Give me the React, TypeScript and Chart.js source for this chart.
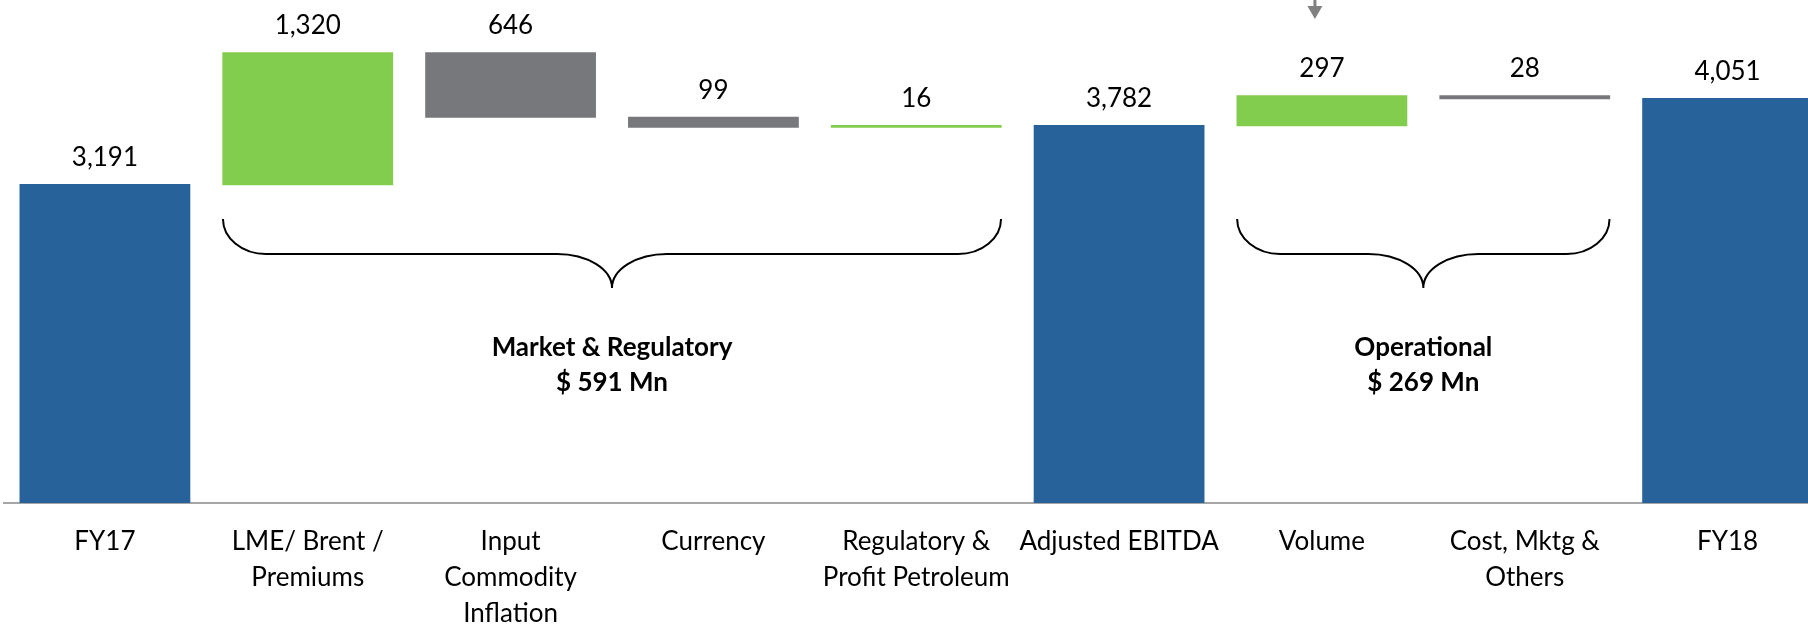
import { useEffect, useRef } from "react";
import { Chart, registerables } from "chart.js";

Chart.register(...registerables);

const categories: string[][] = [
  ["FY17"],
  ["LME/ Brent /", "Premiums"],
  ["Input", "Commodity", "Inflation"],
  ["Currency"],
  ["Regulatory &", "Profit Petroleum"],
  ["Adjusted EBITDA"],
  ["Volume"],
  ["Cost, Mktg &", "Others"],
  ["FY18"],
];
const values = [3191, 1320, -646, -99, 16, 3782, 297, -28, 4051];
const kinds = ["total", "delta", "delta", "delta", "delta", "total", "delta", "delta", "total"];

const groupLabels = ["Market & Regulatory", "Operational"];
const groupStart = [1, 6];
const groupEnd = [4, 7];
const arrowIndex = 6;

const BLUE = "#28629A";
const GREEN = "#82CD4D";
const GRAY = "#77787B";
const FONT = "Lato";

function buildRanges() {
  const ranges: [number, number][] = [];
  let running = 0;
  values.forEach((v, i) => {
    if (kinds[i] === "total") {
      ranges.push([0, v]);
      running = v;
    } else {
      const next = running + v;
      ranges.push([Math.min(running, next), Math.max(running, next)]);
      running = next;
    }
  });
  return ranges;
}

const colors = values.map((v, i) => (kinds[i] === "total" ? BLUE : v >= 0 ? GREEN : GRAY));

const valueLabelPlugin = {
  id: "valueLabels",
  afterDatasetsDraw(chart: any) {
    const ctx = chart.ctx;
    const meta = chart.getDatasetMeta(0);
    ctx.save();
    ctx.font = `26px ${FONT}`;
    ctx.fillStyle = "#000";
    ctx.textAlign = "center";
    ctx.textBaseline = "middle";
    meta.data.forEach((el: any, i: number) => {
      const top = Math.min(el.y, el.base);
      ctx.fillText(Math.abs(values[i]).toLocaleString("en-US"), el.x, top - 27);
    });
    ctx.restore();
  },
};

const bracePlugin = {
  id: "braces",
  afterDraw(chart: any) {
    const ctx = chart.ctx;
    const meta = chart.getDatasetMeta(0);
    const yTop = 219;
    const yMid = 254;
    const yTip = 288;
    const k = 0.552;
    ctx.save();
    groupLabels.forEach((label, g) => {
      const a = meta.data[groupStart[g]];
      const b = meta.data[groupEnd[g]];
      const x0 = a.x - a.width / 2;
      const x1 = b.x + b.width / 2;
      const xc = (x0 + x1) / 2;
      const r1 = 43;
      const r2 = 55;
      const d1 = yMid - yTop;
      const d2 = yTip - yMid;
      ctx.beginPath();
      ctx.moveTo(x0, yTop);
      ctx.bezierCurveTo(x0, yTop + k * d1, x0 + r1 - k * r1, yMid, x0 + r1, yMid);
      ctx.lineTo(xc - r2, yMid);
      ctx.bezierCurveTo(xc - r2 + k * r2, yMid, xc, yTip - k * d2, xc, yTip);
      ctx.bezierCurveTo(xc, yTip - k * d2, xc + r2 - k * r2, yMid, xc + r2, yMid);
      ctx.lineTo(x1 - r1, yMid);
      ctx.bezierCurveTo(x1 - r1 + k * r1, yMid, x1, yTop + k * d1, x1, yTop);
      ctx.strokeStyle = "#000";
      ctx.lineWidth = 2;
      ctx.stroke();

      const total = values.slice(groupStart[g], groupEnd[g] + 1).reduce((s, v) => s + v, 0);
      ctx.font = `bold 26px ${FONT}`;
      ctx.fillStyle = "#000";
      ctx.textAlign = "center";
      ctx.textBaseline = "middle";
      ctx.fillText(label, xc, 348);
      ctx.fillText(`$ ${total} Mn`, xc, 383);
    });

    // small grey arrow at the top
    const v = meta.data[arrowIndex];
    const ax = v.x - 7;
    ctx.fillStyle = "#808080";
    ctx.fillRect(ax - 1.5, 0, 3, 7);
    ctx.beginPath();
    ctx.moveTo(ax - 7.5, 6);
    ctx.lineTo(ax + 7.5, 6);
    ctx.lineTo(ax, 19);
    ctx.closePath();
    ctx.fill();
    ctx.restore();
  },
};

export default function App() {
  const ref = useRef<HTMLCanvasElement>(null);
  useEffect(() => {
    const canvas = ref.current!;
    const chart = new Chart(canvas, {
      type: "bar",
      data: {
        labels: categories,
        datasets: [
          {
            data: buildRanges() as any,
            backgroundColor: colors,
            borderWidth: 0,
            inflateAmount: 0.6,
            barPercentage: 0.836,
            categoryPercentage: 1,
          } as any,
        ],
      },
      options: {
        responsive: false,
        animation: false,
        layout: { padding: { left: 3.5, right: 0, top: 0, bottom: 0 } },
        plugins: { legend: { display: false }, tooltip: { enabled: false } },
        scales: {
          x: {
            grid: { display: false, drawTicks: false },
            border: { display: true, color: "#a6a6a6", width: 2 },
            ticks: {
              color: "#000",
              font: { family: FONT, size: 26, lineHeight: 1.385 },
              padding: 21,
              maxRotation: 0,
              autoSkip: false,
            },
            afterFit: (scale: any) => {
              scale.height = 121;
            },
          },
          y: { display: false, min: 0, max: 5040 },
        },
      },
      plugins: [valueLabelPlugin, bracePlugin],
    });
    return () => chart.destroy();
  }, []);
  return (
    <div
      style={{
        position: "fixed",
        left: 0,
        top: 0,
        width: 1808,
        height: 624,
        overflow: "hidden",
        background: "#fff",
      }}
    >
      <canvas ref={ref} width={1829} height={624} style={{ display: "block", width: 1829, height: 624 }} />
    </div>
  );
}
